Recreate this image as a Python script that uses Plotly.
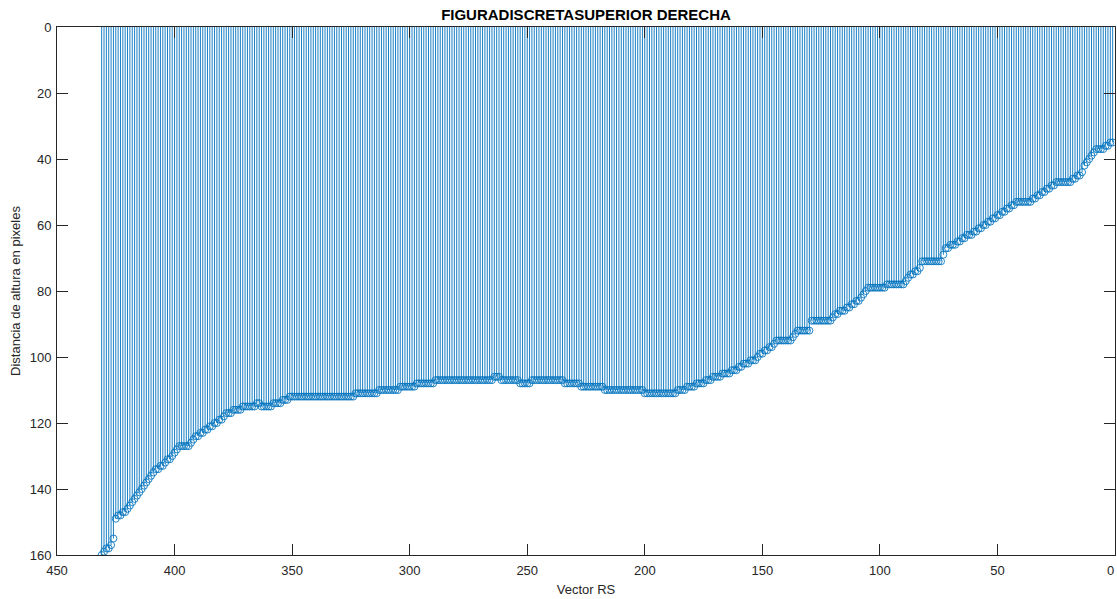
import plotly.graph_objects as go

# Values for Vector RS index 1..431 (distance of height in pixels)
heights = [
    35, 35, 36, 36, 37, 37, 37, 37, 38, 39,
    40, 41, 42, 44, 45, 45, 46, 46, 47, 47,
    47, 47, 47, 47, 47, 48, 48, 49, 49, 50,
    50, 51, 51, 52, 52, 53, 53, 53, 53, 53,
    53, 53, 54, 54, 55, 55, 56, 56, 57, 57,
    58, 58, 59, 59, 60, 60, 61, 61, 62, 62,
    63, 63, 63, 64, 64, 65, 65, 66, 66, 66,
    67, 67, 69, 71, 71, 71, 71, 71, 71, 71,
    71, 71, 73, 74, 74, 75, 75, 76, 77, 78,
    78, 78, 78, 78, 78, 78, 78, 79, 79, 79,
    79, 79, 79, 79, 79, 80, 81, 82, 83, 83,
    84, 84, 85, 85, 86, 86, 86, 87, 87, 88,
    89, 89, 89, 89, 89, 89, 89, 89, 89, 92,
    92, 92, 92, 92, 92, 93, 94, 95, 95, 95,
    95, 95, 95, 95, 96, 97, 97, 98, 98, 99,
    99, 100, 101, 101, 101, 102, 102, 102, 103, 103,
    104, 104, 104, 105, 105, 105, 105, 106, 106, 106,
    106, 107, 107, 107, 108, 108, 108, 108, 109, 109,
    109, 109, 110, 110, 110, 110, 111, 111, 111, 111,
    111, 111, 111, 111, 111, 111, 111, 111, 111, 111,
    110, 110, 110, 110, 110, 110, 110, 110, 110, 110,
    110, 110, 110, 110, 110, 110, 110, 109, 109, 109,
    109, 109, 109, 109, 109, 109, 109, 108, 108, 108,
    108, 108, 108, 108, 107, 107, 107, 107, 107, 107,
    107, 107, 107, 107, 107, 107, 107, 107, 108, 108,
    108, 108, 108, 107, 107, 107, 107, 107, 107, 107,
    107, 106, 106, 106, 107, 107, 107, 107, 107, 107,
    107, 107, 107, 107, 107, 107, 107, 107, 107, 107,
    107, 107, 107, 107, 107, 107, 107, 107, 107, 108,
    108, 108, 108, 108, 108, 108, 108, 109, 109, 109,
    109, 109, 109, 109, 110, 110, 110, 110, 110, 110,
    110, 110, 110, 111, 111, 111, 111, 111, 111, 111,
    111, 111, 111, 112, 112, 112, 112, 112, 112, 112,
    112, 112, 112, 112, 112, 112, 112, 112, 112, 112,
    112, 112, 112, 112, 112, 112, 112, 112, 112, 112,
    112, 113, 113, 113, 114, 114, 114, 114, 115, 115,
    115, 115, 115, 114, 114, 115, 115, 115, 115, 115,
    115, 116, 116, 116, 116, 117, 117, 117, 118, 119,
    119, 120, 120, 121, 121, 122, 122, 123, 123, 124,
    124, 125, 126, 127, 127, 127, 127, 127, 128, 129,
    130, 131, 131, 132, 133, 133, 134, 134, 135, 136,
    137, 138, 139, 140, 141, 142, 143, 144, 145, 146,
    147, 147, 148, 148, 149, 155, 157, 158, 158, 159, 160,
]
indices = list(range(1, len(heights) + 1))

x_ticks = [450, 400, 350, 300, 250, 200, 150, 100, 50, 0]
# the last label ("0") sits on the right border; it is drawn right-aligned below
x_tick_labels = ["450", "400", "350", "300", "250", "200", "150", "100", "50", ""]
edge_label = "0"
y_ticks = [0, 20, 40, 60, 80, 100, 120, 140, 160]

title_text = "FIGURADISCRETASUPERIOR DERECHA"
x_label = "Vector RS"
y_label = "Distancia de altura en pixeles"

blue = "#0072BD"
axis_col = "#262626"
font_fam = "Liberation Sans, Arial"

stem_x, stem_y = [], []
for xi, yi in zip(indices, heights):
    stem_x += [xi, xi, None]
    stem_y += [0, yi, None]

fig = go.Figure()
fig.add_trace(go.Scatter(x=stem_x, y=stem_y, mode="lines",
                         line=dict(color=blue, width=0.9),
                         hoverinfo="skip", showlegend=False))
fig.add_trace(go.Scatter(x=indices, y=heights, mode="markers",
                         marker=dict(symbol="circle-open", size=7,
                                     color=blue, opacity=0.85,
                                     line=dict(width=1, color=blue)),
                         showlegend=False))

axis_common = dict(
    showgrid=False, zeroline=False, showline=True, linecolor=axis_col,
    linewidth=1, mirror="ticks", ticks="inside", ticklen=11,
    tickcolor=axis_col, tickwidth=1, automargin=False,
    ticklabeloverflow="allow",
    tickfont=dict(family=font_fam, size=13, color=axis_col),
)

fig.update_layout(
    width=1117, height=599,
    margin=dict(l=57, r=2, t=27, b=44),
    paper_bgcolor="white", plot_bgcolor="white",
    title=dict(text="<b>" + title_text + "</b>",
               font=dict(family=font_fam, size=15, color="black"),
               x=586 / 1117, xanchor="center", xref="container",
               y=1 - 15 / 599, yanchor="middle", yref="container"),
    xaxis=dict(range=[450, 0], tickvals=x_ticks, ticktext=x_tick_labels,
               ticklabelstandoff=3,
               title=dict(text=x_label, standoff=8,
                          font=dict(family=font_fam, size=13, color=axis_col)),
               **axis_common),
    yaxis=dict(range=[160, 0], tickvals=y_ticks, ticktext=[str(t) for t in y_ticks],
               ticklabelstandoff=2,
               title=dict(text=y_label, standoff=6,
                          font=dict(family=font_fam, size=13, color=axis_col)),
               **axis_common),
)
fig.add_annotation(x=x_ticks[-1], xref="x", y=0, yref="paper",
                   text=edge_label, showarrow=False,
                   xanchor="right", yanchor="top", xshift=1, yshift=-6,
                   font=dict(family=font_fam, size=13, color=axis_col))

fig.write_html("out.html", config={"displayModeBar": False},
               post_script="document.body.style.margin='0px';")
